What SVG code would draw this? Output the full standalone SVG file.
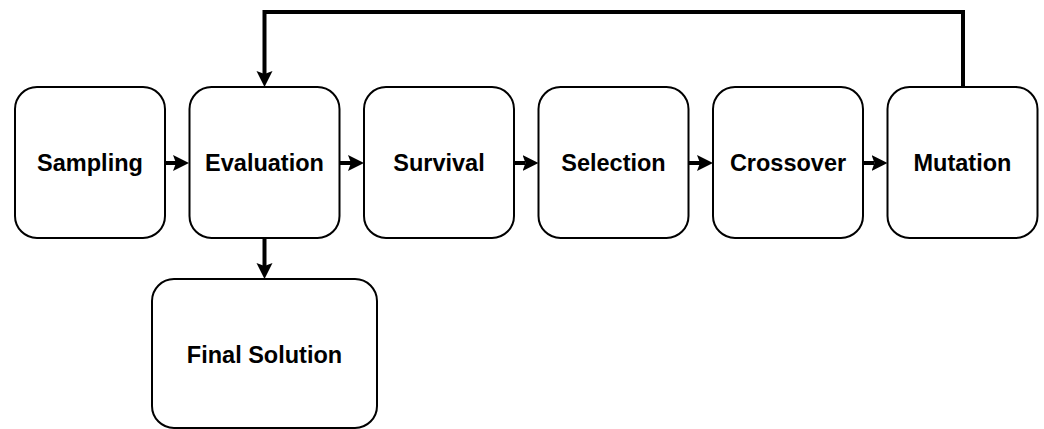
<svg xmlns="http://www.w3.org/2000/svg" width="1044" height="429" viewBox="0 0 1044 429">
<style>
.box{fill:#fff;stroke:#000;stroke-width:2}
.lbl{font-family:"Liberation Sans",Arial,sans-serif;font-weight:bold;font-size:23.5px;text-anchor:middle;fill:#000}
.conn{fill:none;stroke:#000;stroke-width:4}
</style>
<defs>
<marker id="ah" markerUnits="userSpaceOnUse" markerWidth="18" markerHeight="18" viewBox="0 0 18 18" refX="3" refY="8" orient="auto">
<path d="M0,0 L16,8 L0,16 L3,8 Z" fill="#000"/>
</marker>
</defs>
<g id="connectors">
<path class="conn" d="M165,163 H176" marker-end="url(#ah)"/>
<path class="conn" d="M340,163 H351" marker-end="url(#ah)"/>
<path class="conn" d="M514,163 H525.5" marker-end="url(#ah)"/>
<path class="conn" d="M689,163 H700" marker-end="url(#ah)"/>
<path class="conn" d="M863,163 H874.5" marker-end="url(#ah)"/>
<path class="conn" d="M264.5,238 V266" marker-end="url(#ah)"/>
<path class="conn" d="M963,87 V12 H264.5 V74" marker-end="url(#ah)"/>
</g>
<g id="sampling"><rect class="box" x="15" y="87" width="150" height="151" rx="22"/><text class="lbl" x="90" y="171">Sampling</text></g>
<g id="evaluation"><rect class="box" x="189.5" y="87" width="150" height="151" rx="22"/><text class="lbl" x="264.5" y="171">Evaluation</text></g>
<g id="survival"><rect class="box" x="364" y="87" width="150" height="151" rx="22"/><text class="lbl" x="439" y="171">Survival</text></g>
<g id="selection"><rect class="box" x="538.5" y="87" width="150" height="151" rx="22"/><text class="lbl" x="613.5" y="171">Selection</text></g>
<g id="crossover"><rect class="box" x="713" y="87" width="150" height="151" rx="22"/><text class="lbl" x="788" y="171">Crossover</text></g>
<g id="mutation"><rect class="box" x="887.5" y="87" width="150" height="151" rx="22"/><text class="lbl" x="962.5" y="171">Mutation</text></g>
<g id="final-solution"><rect class="box" x="152" y="279" width="225" height="149" rx="22"/><text class="lbl" x="264.5" y="363">Final Solution</text></g>
</svg>
